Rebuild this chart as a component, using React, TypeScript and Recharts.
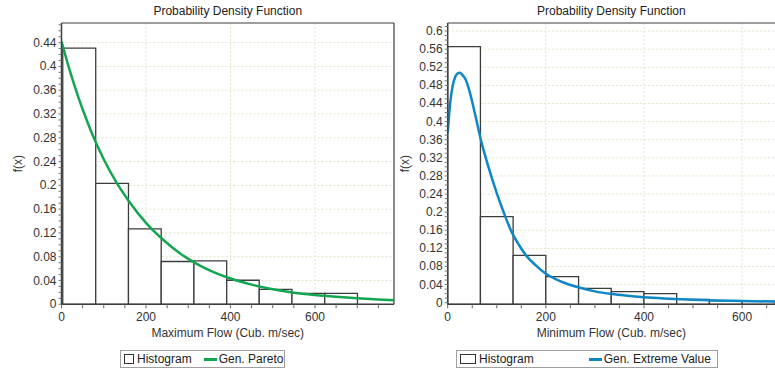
import React from "react";
import {
  ComposedChart,
  Line,
  XAxis,
  YAxis,
  CartesianGrid,
  ReferenceArea,
  ReferenceLine,
} from "recharts";

// ---- Maximum flow (left panel) ----
const maxBinEdges = [3, 81, 158.5, 236, 313.5, 391, 468, 545.5, 623, 700.5];
const maxBinHeights = [0.4306, 0.2032, 0.1267, 0.072, 0.073, 0.0404, 0.0252, 0.0185, 0.0185];

const paretoX = [0, 20, 40, 60, 80, 100, 130, 160, 200, 240, 280, 320, 360, 400, 450, 500, 550, 600, 650, 700, 750, 790];
const paretoY = [0.442, 0.392, 0.348, 0.309, 0.274, 0.244, 0.205, 0.173, 0.137, 0.109, 0.086, 0.068, 0.054, 0.0433, 0.0331, 0.0253, 0.0195, 0.0156, 0.0126, 0.0102, 0.0082, 0.0066];

const maxYTicks = [0, 0.04, 0.08, 0.12, 0.16, 0.2, 0.24, 0.28, 0.32, 0.36, 0.4, 0.44];

// ---- Minimum flow (right panel) ----
const minBinEdges = [0, 66.7, 133.3, 200, 266.7, 333.3, 400, 466.7, 533.3, 600, 666.7];
const minBinHeights = [0.5654, 0.19, 0.1045, 0.0574, 0.0315, 0.0243, 0.02, 0.0075, 0.004, 0.003];

const gevX = [0, 5, 10, 15, 20, 25, 30, 37, 45, 55, 68, 83, 100, 115, 130, 145, 160, 180, 200, 220, 240, 270, 300, 335, 370, 400, 450, 500, 550, 600, 667];
const gevY = [0.375, 0.44, 0.478, 0.498, 0.506, 0.508, 0.503, 0.492, 0.465, 0.42, 0.358, 0.3, 0.242, 0.197, 0.157, 0.128, 0.104, 0.082, 0.064, 0.052, 0.043, 0.033, 0.025, 0.019, 0.015, 0.012, 0.009, 0.0068, 0.005, 0.0038, 0.0025];

const minYTicks = [0, 0.04, 0.08, 0.12, 0.16, 0.2, 0.24, 0.28, 0.32, 0.36, 0.4, 0.44, 0.48, 0.52, 0.56, 0.6];

const xMajor = [200, 400, 600];

const FONT = "'Liberation Sans', Arial, sans-serif";
const TEXT = "#333";
const GRID = "#e3e3c6";
const BOX = "#3c3c3c";

function range(start: number, stop: number, step: number): number[] {
  const out: number[] = [];
  for (let i = 0; start + i * step <= stop + 1e-9; i++) out.push(Math.round((start + i * step) * 1000) / 1000);
  return out;
}

function fmt(v: number) {
  return String(Math.round(v * 100) / 100);
}

/* eslint-disable @typescript-eslint/no-explicit-any */
function XTick(props: any) {
  const { x, y, payload } = props;
  if (payload.value % 200 !== 0) return null;
  return (
    <text x={x} y={y} dy={10} textAnchor="middle" fill={TEXT} fontSize={12} fontFamily={FONT}>
      {payload.value}
    </text>
  );
}

function makeYTick(majors: number[]) {
  return function YTick(props: any) {
    const { x, y, payload } = props;
    if (!majors.some((m) => Math.abs(m - payload.value) < 1e-6)) return null;
    return (
      <text x={x} y={y} dy={4} textAnchor="end" fill={TEXT} fontSize={12} fontFamily={FONT}>
        {fmt(payload.value)}
      </text>
    );
  };
}

function yLabel(dx: number) {
  return (props: any) => {
    const vb = props.viewBox || {};
    const cx = vb.x + dx;
    const cy = vb.y + vb.height / 2;
    return (
      <text
        x={cx}
        y={cy}
        dy={4}
        textAnchor="middle"
        transform={`rotate(-90 ${cx} ${cy})`}
        fill={TEXT}
        fontSize={12}
        fontFamily={FONT}
      >
        f(x)
      </text>
    );
  };
}
/* eslint-enable @typescript-eslint/no-explicit-any */

interface PanelProps {
  width: number;
  xLabel: string;
  xMax: number;
  yMin: number;
  yMax: number;
  yTicks: number[];
  yAxisWidth: number;
  marginLeft: number;
  marginRight: number;
  labelDx: number;
  edges: number[];
  heights: number[];
  curveX: number[];
  curveY: number[];
  color: string;
  name: string;
  rightBorder: boolean;
}

function PdfPanel(p: PanelProps) {
  const curve = p.curveX.map((x, i) => ({ x, y: p.curveY[i] }));
  const minorY = range(0, p.yMax, 0.01);
  const xTicks = range(0, p.xMax, 50);
  return (
    <div style={{ position: "relative", width: p.width, height: 372 }}>
      <div
        style={{
          position: "absolute",
          top: 4,
          left: p.marginLeft + p.yAxisWidth,
          right: p.marginRight,
          textAlign: "center",
          fontSize: 12,
          color: "#222",
          fontFamily: FONT,
        }}
      >
        Probability Density Function
      </div>
      <ComposedChart
        width={p.width}
        height={372}
        margin={{ top: 23, right: p.marginRight, bottom: 31.7, left: p.marginLeft }}
        style={{ position: "absolute", top: 0, left: 0 }}
      >
        <CartesianGrid
          stroke={GRID}
          strokeDasharray="2 2"
          horizontalValues={p.yTicks}
          verticalValues={xMajor}
        />
        <XAxis
          type="number"
          dataKey="x"
          domain={[0, p.xMax]}
          ticks={xTicks}
          interval={0}
          allowDataOverflow
          height={36}
          tick={<XTick />}
          tickSize={4}
          tickMargin={3}
          tickLine={{ stroke: "#666" }}
          axisLine={{ stroke: BOX, strokeWidth: 1.5 }}
          label={{
            value: p.xLabel,
            position: "insideBottom",
            offset: 3,
            fill: TEXT,
            fontSize: 12,
            fontFamily: FONT,
          }}
        />
        <YAxis
          type="number"
          domain={[p.yMin, p.yMax]}
          ticks={minorY}
          interval={0}
          allowDataOverflow
          width={p.yAxisWidth}
          tick={makeYTick(p.yTicks)}
          tickSize={3}
          tickMargin={2}
          tickLine={{ stroke: "#777" }}
          axisLine={{ stroke: BOX, strokeWidth: 1.5 }}
          label={{ content: yLabel(p.labelDx) }}
        />
        <ReferenceLine y={p.yMax} stroke={BOX} strokeWidth={1.2} />
        {p.rightBorder && <ReferenceLine x={p.xMax} stroke={BOX} strokeWidth={1.2} />}
        {p.heights.map((h, i) => (
          <ReferenceArea
            key={i}
            x1={p.edges[i]}
            x2={p.edges[i + 1]}
            y1={p.yMin}
            y2={h}
            ifOverflow="visible"
            fill="#fff"
            fillOpacity={1}
            stroke={BOX}
            strokeWidth={1.3}
          />
        ))}
        <Line
          data={curve}
          dataKey="y"
          name={p.name}
          type="monotone"
          stroke={p.color}
          strokeWidth={2.5}
          dot={false}
          isAnimationActive={false}
        />
      </ComposedChart>
    </div>
  );
}

function LegendBox(props: { left: number; width: number; swatchW: number; gap: number; color: string; name: string }) {
  return (
    <div
      style={{
        position: "absolute",
        top: 350,
        left: props.left,
        width: props.width,
        height: 18,
        border: "1px solid #a0a0a0",
        boxSizing: "border-box",
        display: "flex",
        alignItems: "center",
        fontSize: 12,
        color: "#222",
        fontFamily: FONT,
        paddingLeft: 3,
      }}
    >
      <span
        style={{
          display: "inline-block",
          width: props.swatchW,
          height: 10,
          border: "1px solid #333",
          boxSizing: "border-box",
          marginRight: 3,
        }}
      />
      <span>Histogram</span>
      <span
        style={{
          display: "inline-block",
          width: 13,
          height: 3,
          background: props.color,
          marginLeft: props.gap,
          marginRight: 2,
        }}
      />
      <span>{props.name}</span>
    </div>
  );
}

export default function App() {
  return (
    <div
      style={{
        position: "absolute",
        left: 0,
        top: 0,
        width: 775,
        height: 372,
        background: "#fff",
        overflow: "hidden",
      }}
    >
      <div style={{ position: "absolute", left: 0, top: 0 }}>
        <PdfPanel
          width={398}
          xLabel="Maximum Flow (Cub. m/sec)"
          xMax={787}
          yMin={0}
          yMax={0.473}
          yTicks={maxYTicks}
          yAxisWidth={61}
          marginLeft={0.5}
          marginRight={4}
          labelDx={17.5}
          edges={maxBinEdges}
          heights={maxBinHeights}
          curveX={paretoX}
          curveY={paretoY}
          color="#12a650"
          name="Gen. Pareto"
          rightBorder
        />
      </div>
      <div style={{ position: "absolute", left: 398, top: 0 }}>
        <PdfPanel
          width={377}
          xLabel="Minimum Flow (Cub. m/sec)"
          xMax={667}
          yMin={-0.0035}
          yMax={0.6177}
          yTicks={minYTicks}
          yAxisWidth={49.7}
          marginLeft={0}
          marginRight={0}
          labelDx={7.5}
          edges={minBinEdges}
          heights={minBinHeights}
          curveX={gevX}
          curveY={gevY}
          color="#0e87c4"
          name="Gen. Extreme Value"
          rightBorder={false}
        />
      </div>
      <LegendBox left={120} width={165} swatchW={10} gap={12} color="#12a650" name="Gen. Pareto" />
      <LegendBox left={456} width={262} swatchW={16} gap={55} color="#0e87c4" name="Gen. Extreme Value" />
    </div>
  );
}
